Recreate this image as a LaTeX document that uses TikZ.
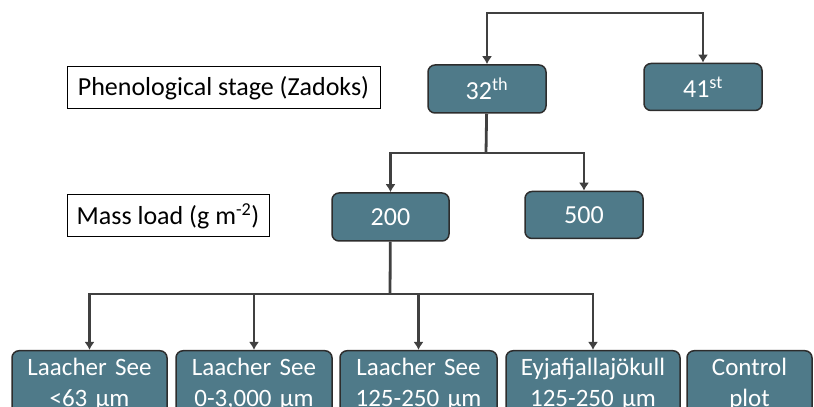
\documentclass[tikz,border=0pt]{standalone}
\usepackage{fontspec}
\setmainfont{Carlito}
\usetikzlibrary{arrows.meta}
\definecolor{boxteal}{RGB}{79,122,137}
\definecolor{edgegray}{RGB}{45,45,45}
\definecolor{linegray}{RGB}{64,64,64}

\begin{document}
\begin{tikzpicture}[x=1pt,y=1pt,
		>={Latex[length=8pt,width=10pt]},
		stagebox/.style={draw=edgegray, line width=1.5pt, fill=boxteal, rounded corners=7pt,
			text=white, font=\fontsize{26}{31}\selectfont, inner sep=0pt},
		ashbox/.style={stagebox, anchor=north, align=center, inner ysep=7pt,
			font=\fontsize{25}{31}\selectfont},
		labelbox/.style={draw=black, line width=1pt, fill=white,
			font=\fontsize{26}{30}\selectfont, inner sep=0pt},
		conn/.style={draw=linegray, line width=2.8pt}]
		\useasboundingbox (0,0) rectangle (814,407);
		\clip (0,0) rectangle (814,407);
		
		% phenological stage
		\node[labelbox, minimum width=313pt, minimum height=42pt] (phen) at (223.5,319) {Phenological stage (Zadoks)};
		\node[stagebox, minimum width=118pt, minimum height=48pt] (p32) at (487,318) {32\textsuperscript{th}};
		\node[stagebox, minimum width=118pt, minimum height=47pt] (p41) at (703,320) {41\textsuperscript{st}};
		
		% mass load
		\node[labelbox, minimum width=202pt, minimum height=42pt] (mass) at (168,191) {Mass load (g m\textsuperscript{-2})};
		\node[stagebox, minimum width=117pt, minimum height=48pt] (m200) at (390.5,190) {200};
		\node[stagebox, minimum width=118pt, minimum height=47pt] (m500) at (584,192) {500};
		
		% ash treatments
		\node[ashbox, text width=155pt] (b1) at (89.5,57) {Laacher See\\<63 µm};
		\node[ashbox, text width=156pt] (b2) at (254,57) {Laacher See\\0-3,000 µm};
		\node[ashbox, text width=157pt] (b3) at (418.5,57) {Laacher See\\125-250 µm};
		\node[ashbox, text width=174pt] (b4) at (593,57) {Eyjafjallajökull\\125-250 µm};
		\node[ashbox, text width=125pt] (b5) at (749.5,57) {Control\\plot};
		
		% connectors
		\coordinate (top) at (595,394);
		\coordinate (s1) at (486,254);
		\coordinate (s2) at (390,113);
		\draw[conn, <->] (p32) |- (top) -| (p41);
		\draw[conn] (p32) -- (s1);
		\draw[conn, <->] (m200) |- (s1) -| (m500);
		\draw[conn] (m200) -- (s2);
		\draw[conn, <->] (b1) |- (s2) -| (b4);
		\draw[conn, ->] (s2) -| (b2);
		\draw[conn, ->] (s2) -| (b3);
	\end{tikzpicture}
\end{document}
